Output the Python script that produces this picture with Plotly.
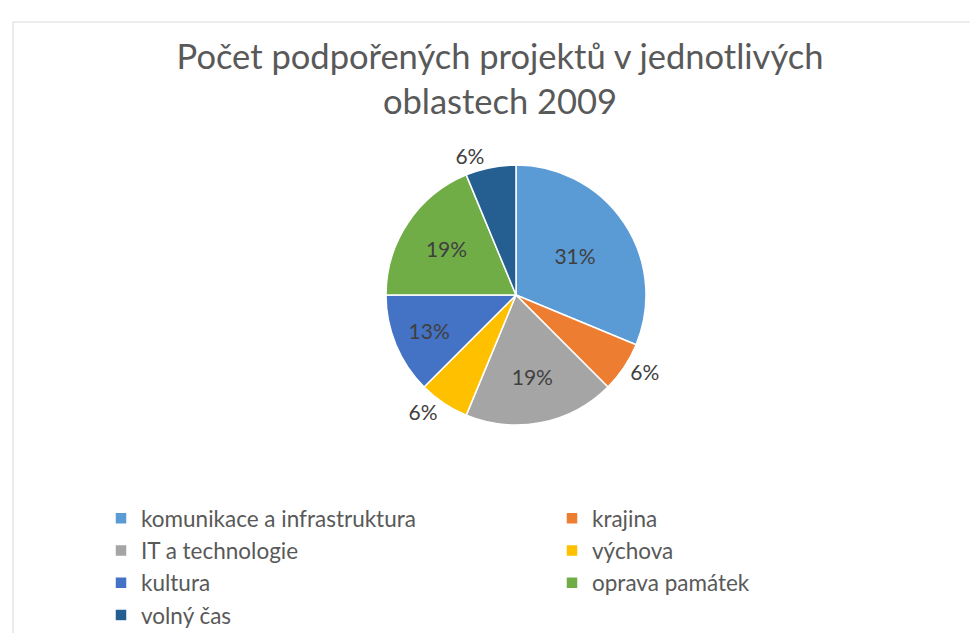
import plotly.graph_objects as go

categories = ["komunikace a infrastruktura", "krajina", "IT a technologie", "výchova",
              "kultura", "oprava památek", "volný čas"]
values = [5, 1, 3, 1, 2, 3, 1]
colors = ["#5B9BD5", "#ED7D31", "#A5A5A5", "#FFC000", "#4472C4", "#70AD47", "#255E91"]
text_positions = ["inside", "outside", "inside", "outside", "inside", "inside", "outside"]
title_text = "Počet podpořených projektů v jednotlivých<br>oblastech 2009"

W, H = 978, 633
FONT = "Lato, 'Open Sans', sans-serif"

fig = go.Figure(go.Pie(
    labels=categories,
    values=values,
    sort=False,
    direction="clockwise",
    rotation=0,
    marker=dict(colors=colors, line=dict(color="white", width=1.5)),
    textinfo="percent",
    texttemplate="%{percent:.0%}",
    textposition=text_positions,
    insidetextorientation="horizontal",
    textfont=dict(size=21, color="#404040", family=FONT),
    domain=dict(x=[378 / W, 638 / W], y=[1 - 417 / H, 1 - 157 / H]),
))

fig.update_layout(
    width=W, height=H,
    margin=dict(l=0, r=0, t=0, b=0, autoexpand=False),
    paper_bgcolor="white",
    font=dict(family=FONT, color="#595959"),
    title=dict(text=title_text, x=492 / W, xanchor="center", y=1 - 61 / H, yanchor="top",
               font=dict(size=34.5, color="#595959", family=FONT)),
    showlegend=True,
    legend=dict(orientation="h", x=93 / W, y=1 - 489 / H, xanchor="left", yanchor="top",
                entrywidth=406, entrywidthmode="pixels",
                font=dict(size=22.5, color="#595959", family=FONT)),
    shapes=[dict(type="rect", xref="paper", yref="paper", x0=5 / W, x1=1.2, y0=-0.2, y1=1 - 14 / H,
                 line=dict(color="#D9D9D9", width=1), fillcolor="rgba(0,0,0,0)", layer="below")],
)

fig.write_html("out.html")
